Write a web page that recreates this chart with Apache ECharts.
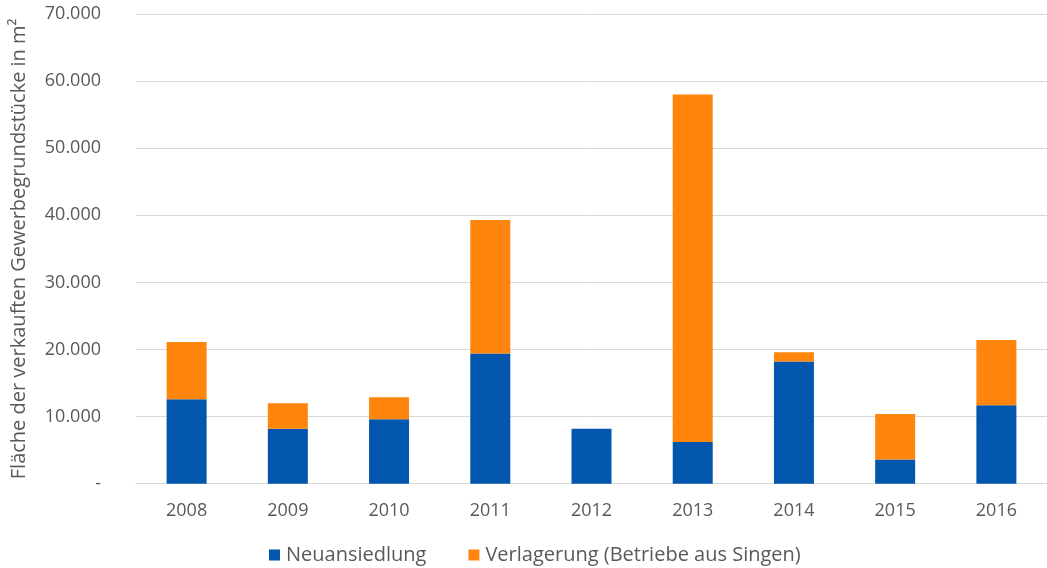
<!DOCTYPE html>
<html>
<head>
<meta charset="utf-8">
<script src="https://cdn.jsdelivr.net/npm/echarts@6/dist/echarts.min.js"></script>
<style>html,body{margin:0;padding:0;background:#fff}#c{width:1047px;height:568px}</style>
</head>
<body>
<div id="c"></div>
<script>
const categories = ['2008','2009','2010','2011','2012','2013','2014','2015','2016'];
const neuansiedlung = [12600, 8200, 9600, 19400, 8200, 6200, 18200, 3600, 11700];
const verlagerung = [8500, 3800, 3300, 19900, 0, 51800, 1400, 6800, 9700];
const seriesNames = ['Neuansiedlung', 'Verlagerung (Betriebe aus Singen)'];
const yAxisTitle = 'Fläche der verkauften Gewerbegrundstücke in m²';

const font = '"Open Sans", "Noto Sans", sans-serif';
const chart = echarts.init(document.getElementById('c'));
chart.setOption({
  animation: false,
  grid: { left: 136, right: -10.5, top: 14, bottom: 84.3 },
  legend: {
    top: 540, left: 264, itemWidth: 11, itemHeight: 11, itemGap: 42,
    icon: 'rect',
    textStyle: { fontFamily: font, fontSize: 20, color: '#595959', padding: [0, 0, 0, 1] },
    data: seriesNames
  },
  xAxis: {
    type: 'category', data: categories,
    axisLine: { lineStyle: { color: '#d9d9d9', width: 1 } },
    axisTick: { show: false },
    axisLabel: { fontFamily: font, fontSize: 18, color: '#595959', margin: 18 }
  },
  yAxis: {
    type: 'value', min: 0, max: 70000, interval: 10000,
    name: yAxisTitle, nameLocation: 'middle', nameGap: 107,
    nameTextStyle: { fontFamily: font, fontSize: 20, color: '#595959' },
    axisLine: { show: false }, axisTick: { show: false },
    splitLine: { lineStyle: { color: '#d9d9d9', width: 1 } },
    axisLabel: {
      fontFamily: font, fontSize: 18, color: '#595959', margin: 35,
      formatter: v => v === 0 ? '-' : v.toLocaleString('de-DE')
    }
  },
  series: [
    { name: seriesNames[0], type: 'bar', stack: 't', data: neuansiedlung, barWidth: 40,
      itemStyle: { color: '#0256AD' } },
    { name: seriesNames[1], type: 'bar', stack: 't', data: verlagerung, barWidth: 40,
      itemStyle: { color: '#FF850D' } }
  ]
});
</script>
</body>
</html>
